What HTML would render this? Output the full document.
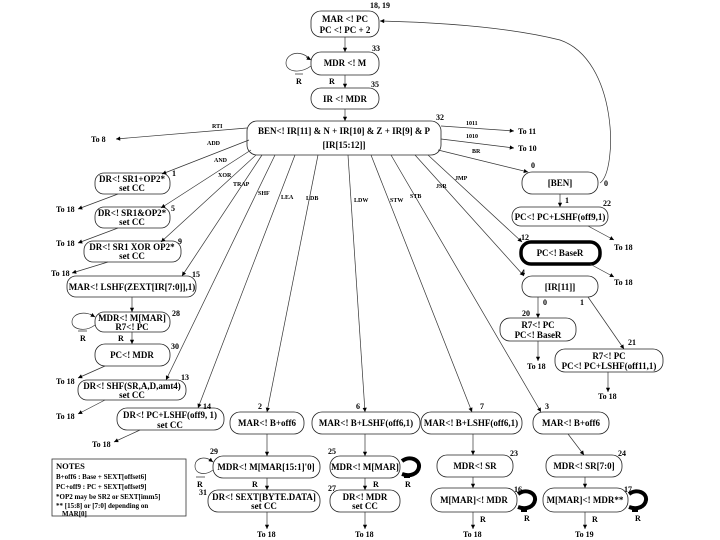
<!DOCTYPE html>
<html><head><meta charset="utf-8"><style>
html,body{margin:0;padding:0;background:#fff;width:720px;height:540px;overflow:hidden}
svg{display:block}
text{font-family:"Liberation Serif",serif;font-weight:bold;fill:#000}
.n{font-size:9px;text-anchor:middle}
.s{font-size:6px}
.l{font-size:8px}
.b{fill:#fff;stroke:#222;stroke-width:0.8}
.e{stroke:#333;stroke-width:0.7;fill:none}
</style></head><body>
<svg width="720" height="540" viewBox="0 0 720 540" xmlns="http://www.w3.org/2000/svg">
<defs><marker id="a" viewBox="0 0 10 10" refX="10" refY="5" markerWidth="7" markerHeight="6" orient="auto"><path d="M0,0L10,5L0,10z" fill="#000"/></marker></defs>

<rect class="b" x="311" y="11" width="68" height="26" rx="10"/>
<text class="n" x="345" y="22">MAR &lt;!  PC</text><text class="n" x="345" y="33">PC &lt;!  PC + 2</text>
<text class="l" x="370" y="8">18, 19</text>

<rect class="b" x="311" y="52" width="68" height="23" rx="10"/>
<text class="n" x="345" y="66">MDR &lt;!  M</text><text class="l" x="372" y="51">33</text>
<rect class="b" x="311" y="88" width="68" height="21" rx="10"/>
<text class="n" x="345" y="102">IR &lt;!  MDR</text><text class="l" x="371" y="87">35</text>

<rect class="b" x="247" y="121" width="194" height="34" rx="10"/>
<text class="n" x="344" y="134">BEN&lt;! IR[11] &amp; N + IR[10] &amp; Z + IR[9] &amp; P</text>
<text class="n" x="344" y="148">[IR[15:12]]</text><text class="l" x="436" y="120">32</text>

<rect class="b" x="522" y="172" width="76" height="22" rx="10"/>
<text class="n" x="560" y="186">[BEN]</text>
<text class="l" x="531" y="168">0</text><text class="l" x="604" y="186">0</text>

<rect class="b" x="512" y="207" width="96" height="19" rx="9"/>
<text class="n" x="560" y="220">PC&lt;! PC+LSHF(off9,1)</text>
<text class="l" x="603" y="206">22</text><text class="l" x="565" y="203">1</text>

<rect x="521" y="242" width="79" height="22" rx="10" fill="#fff" stroke="#000" stroke-width="3.5"/>
<text class="n" x="560" y="256">PC&lt;! BaseR</text><text class="l" x="521" y="240">12</text>

<rect class="b" x="522" y="276" width="76" height="21" rx="10"/>
<text class="n" x="560" y="290">[IR[11]]</text><text class="l" x="521" y="275">4</text>
<text class="l" x="543" y="305">0</text><text class="l" x="580" y="305">1</text>

<rect class="b" x="500" y="318" width="76" height="23" rx="10"/>
<text class="n" x="538" y="328">R7&lt;! PC</text><text class="n" x="538" y="338">PC&lt;! BaseR</text>
<text class="l" x="522" y="316">20</text>

<rect class="b" x="555" y="349" width="108" height="23" rx="10"/>
<text class="n" x="609" y="359">R7&lt;! PC</text><text class="n" x="609" y="369">PC&lt;! PC+LSHF(off11,1)</text>
<text class="l" x="628" y="345">21</text>

<rect class="b" x="95" y="173" width="75" height="21" rx="9"/>
<text class="n" x="132" y="182">DR&lt;! SR1+OP2*</text><text class="n" x="132" y="191">set CC</text><text class="l" x="172" y="176">1</text>
<rect class="b" x="95" y="207" width="75" height="21" rx="9"/>
<text class="n" x="132" y="216">DR&lt;! SR1&amp;OP2*</text><text class="n" x="132" y="225">set CC</text><text class="l" x="171" y="211">5</text>
<rect class="b" x="84" y="241" width="97" height="21" rx="9"/>
<text class="n" x="132" y="250">DR&lt;! SR1 XOR OP2*</text><text class="n" x="132" y="259">set CC</text><text class="l" x="178" y="244">9</text>
<rect class="b" x="67" y="276" width="129" height="21" rx="9"/>
<text class="n" x="132" y="290">MAR&lt;! LSHF(ZEXT[IR[7:0]],1)</text><text class="l" x="192" y="277">15</text>
<rect class="b" x="95" y="312" width="75" height="20" rx="9"/>
<text class="n" x="132" y="321">MDR&lt;! M[MAR]</text><text class="n" x="132" y="330">R7&lt;! PC</text><text class="l" x="172" y="316">28</text>
<rect class="b" x="95" y="344" width="75" height="22" rx="10"/>
<text class="n" x="132" y="358">PC&lt;! MDR</text><text class="l" x="171" y="349">30</text>
<rect class="b" x="78" y="380" width="108" height="20" rx="9"/>
<text class="n" x="132" y="389">DR&lt;! SHF(SR,A,D,amt4)</text><text class="n" x="132" y="398">set CC</text><text class="l" x="181" y="380">13</text>
<rect class="b" x="117" y="408" width="107" height="22" rx="10"/>
<text class="n" x="170" y="418">DR&lt;! PC+LSHF(off9, 1)</text><text class="n" x="170" y="428">set CC</text><text class="l" x="203" y="409">14</text>

<rect class="b" x="230" y="412" width="74" height="22" rx="10"/>
<text class="n" x="267" y="426">MAR&lt;! B+off6</text><text class="l" x="258" y="409">2</text>
<rect class="b" x="213" y="456" width="107" height="22" rx="10"/>
<text class="n" x="266" y="470">MDR&lt;! M[MAR[15:1]'0]</text><text class="l" x="210" y="454">29</text>
<rect class="b" x="208" y="490" width="112" height="22" rx="10"/>
<text class="n" x="264" y="500">DR&lt;! SEXT[BYTE.DATA]</text><text class="n" x="264" y="509">set CC</text><text class="l" x="199" y="495">31</text>

<rect class="b" x="312" y="412" width="108" height="22" rx="10"/>
<text class="n" x="366" y="426">MAR&lt;! B+LSHF(off6,1)</text><text class="l" x="356" y="409">6</text>
<rect class="b" x="330" y="456" width="70" height="22" rx="10"/>
<text class="n" x="365" y="470">MDR&lt;! M[MAR]</text><text class="l" x="328" y="454">25</text>
<rect class="b" x="330" y="490" width="70" height="22" rx="10"/>
<text class="n" x="365" y="500">DR&lt;! MDR</text><text class="n" x="365" y="509">set CC</text><text class="l" x="328" y="491">27</text>

<rect class="b" x="421" y="412" width="101" height="22" rx="10"/>
<text class="n" x="471" y="426">MAR&lt;! B+LSHF(off6,1)</text><text class="l" x="480" y="409">7</text>
<rect class="b" x="437" y="455" width="76" height="22" rx="10"/>
<text class="n" x="475" y="469">MDR&lt;! SR</text><text class="l" x="510" y="456">23</text>
<rect class="b" x="431" y="488" width="86" height="24" rx="11"/>
<text class="n" x="474" y="503">M[MAR]&lt;! MDR</text><text class="l" x="514" y="492">16</text>

<rect class="b" x="533" y="412" width="76" height="22" rx="10"/>
<text class="n" x="571" y="426">MAR&lt;! B+off6</text><text class="l" x="545" y="409">3</text>
<rect class="b" x="546" y="455" width="76" height="22" rx="10"/>
<text class="n" x="584" y="469">MDR&lt;! SR[7:0]</text><text class="l" x="618" y="456">24</text>
<rect class="b" x="543" y="488" width="85" height="24" rx="11"/>
<text class="n" x="585" y="503">M[MAR]&lt;! MDR**</text><text class="l" x="624" y="492">17</text>

<rect x="52" y="459" width="134" height="57" fill="#fff" stroke="#333" stroke-width="0.8"/>
<text x="56" y="469" style="font-size:8.5px">NOTES</text>
<text x="56" y="479" style="font-size:7px">B+off6 : Base + SEXT[offset6]</text>
<text x="56" y="489" style="font-size:7px">PC+off9 : PC + SEXT[offset9]</text>
<text x="56" y="499" style="font-size:7px">*OP2 may be SR2 or SEXT[imm5]</text>
<text x="56" y="508" style="font-size:7px">** [15:8] or [7:0] depending on</text>
<text x="62" y="516" style="font-size:7px">MAR[0]</text>

<path class="e" d="M345,37V52" marker-end="url(#a)"/>
<path class="e" d="M345,75V88" marker-end="url(#a)"/>
<path class="e" d="M345,109V121" marker-end="url(#a)"/>
<path class="e" d="M311,60C300,48 286,54 286,63C286,72 300,74 311,66" />
<path class="e" d="M306,57L311,60" marker-end="url(#a)"/>
<text class="l" x="296" y="84">R</text><line x1="295" y1="74" x2="303" y2="74" stroke="#000" stroke-width="0.6"/>
<text class="l" x="329" y="84">R</text>
<path class="e" d="M600,183C618,170 618,60 560,40C500,25 420,22 380,21" marker-end="url(#a)"/>

<path class="e" d="M441,126L514,131" marker-end="url(#a)"/><text class="s" x="466" y="125">1011</text><text class="l" x="518" y="134">To 11</text>
<path class="e" d="M441,139L514,148" marker-end="url(#a)"/><text class="s" x="466" y="138">1010</text><text class="l" x="518" y="151">To 10</text>
<path class="e" d="M438,150L528,172" marker-end="url(#a)"/><text class="s" x="472" y="153">BR</text>
<path class="e" d="M247,128L116,139" marker-end="url(#a)"/><text class="s" x="212" y="128">RTI</text><text class="l" x="91" y="142">To 8</text>
<path class="e" d="M249,140L162,174" marker-end="url(#a)"/><text class="s" x="207" y="145">ADD</text>
<path class="e" d="M251,150L161,208" marker-end="url(#a)"/><text class="s" x="214" y="162">AND</text>
<path class="e" d="M256,155L161,242" marker-end="url(#a)"/><text class="s" x="218" y="177">XOR</text>
<path class="e" d="M262,155L182,276" marker-end="url(#a)"/><text class="s" x="233" y="186">TRAP</text>
<path class="e" d="M275,155L166,380" marker-end="url(#a)"/><text class="s" x="258" y="195">SHF</text>
<path class="e" d="M295,155L198,408" marker-end="url(#a)"/><text class="s" x="281" y="199">LEA</text>
<path class="e" d="M318,155L267,412" marker-end="url(#a)"/><text class="s" x="306" y="200">LDB</text>
<path class="e" d="M348,155L365,412" marker-end="url(#a)"/><text class="s" x="354" y="202">LDW</text>
<path class="e" d="M371,155L472,412" marker-end="url(#a)"/><text class="s" x="390" y="202">STW</text>
<path class="e" d="M391,155L541,412" marker-end="url(#a)"/><text class="s" x="410" y="198">STB</text>
<path class="e" d="M415,155L524,276" marker-end="url(#a)"/><text class="s" x="436" y="188">JSR</text>
<path class="e" d="M428,155L522,242" marker-end="url(#a)"/><text class="s" x="455" y="180">JMP</text>

<path class="e" d="M560,194V207" marker-end="url(#a)"/>
<path class="e" d="M588,226L614,240" marker-end="url(#a)"/><text class="l" x="614" y="250">To 18</text>
<path class="e" d="M590,264L614,277" marker-end="url(#a)"/><text class="l" x="614" y="285">To 18</text>
<path class="e" d="M538,297V318" marker-end="url(#a)"/>
<path class="e" d="M588,297L624,349" marker-end="url(#a)"/>
<path class="e" d="M538,341V361" marker-end="url(#a)"/><text class="l" x="527" y="369">To 18</text>
<path class="e" d="M608,372V392" marker-end="url(#a)"/><text class="l" x="598" y="399">To 18</text>

<path class="e" d="M118,194L78,209" marker-end="url(#a)"/><text class="l" x="56" y="212">To 18</text>
<path class="e" d="M118,228L78,243" marker-end="url(#a)"/><text class="l" x="56" y="246">To 18</text>
<path class="e" d="M108,262L72,273" marker-end="url(#a)"/><text class="l" x="51" y="276">To 18</text>
<path class="e" d="M132,297V312" marker-end="url(#a)"/>
<path class="e" d="M132,332V344" marker-end="url(#a)"/><text class="l" x="118" y="341">R</text>
<path class="e" d="M95,317C86,310 72,313 72,322C72,330 86,332 95,325"/><path class="e" d="M90,314L95,317" marker-end="url(#a)"/>
<text class="l" x="80" y="341">R</text><line x1="78" y1="331" x2="87" y2="331" stroke="#000" stroke-width="0.6"/>
<path class="e" d="M105,366L78,378" marker-end="url(#a)"/><text class="l" x="56" y="384">To 18</text>
<path class="e" d="M105,400L78,414" marker-end="url(#a)"/><text class="l" x="56" y="419">To 18</text>
<path class="e" d="M140,430L114,442" marker-end="url(#a)"/><text class="l" x="92" y="447">To 18</text>

<path class="e" d="M267,434V456" marker-end="url(#a)"/>
<path class="e" d="M267,478V490" marker-end="url(#a)"/><text class="l" x="252" y="487">R</text>
<path class="e" d="M213,462C205,455 195,458 195,466C195,474 205,476 213,470"/><path class="e" d="M209,459L213,462" marker-end="url(#a)"/>
<text class="l" x="197" y="487">R</text><line x1="196" y1="477" x2="205" y2="477" stroke="#000" stroke-width="0.6"/>
<path class="e" d="M267,512V529" marker-end="url(#a)"/><text class="l" x="257" y="537">To 18</text>

<path class="e" d="M365,434V456" marker-end="url(#a)"/>
<path class="e" d="M365,478V490" marker-end="url(#a)"/><text class="l" x="373" y="487">R</text>
<path d="M402,461C410,455 420,460 419,467C418,474 410,477 402,474" fill="none" stroke="#000" stroke-width="4"/>
<rect x="404" y="474" width="6" height="4" fill="#000"/><text class="l" x="405" y="487">R</text>
<path class="e" d="M365,512V529" marker-end="url(#a)"/><text class="l" x="355" y="537">To 18</text>

<path class="e" d="M473,434V455" marker-end="url(#a)"/>
<path class="e" d="M473,477V488" marker-end="url(#a)"/>
<path d="M518,494C526,488 536,493 535,500C534,507 526,510 518,507" fill="none" stroke="#000" stroke-width="4"/>
<rect x="521" y="508" width="6" height="4" fill="#000"/><text class="l" x="524" y="521">R</text>
<path class="e" d="M473,512V529" marker-end="url(#a)"/><text class="l" x="480" y="522">R</text><text class="l" x="463" y="537">To 18</text>

<path class="e" d="M568,434L584,455" marker-end="url(#a)"/>
<path class="e" d="M585,477V488" marker-end="url(#a)"/>
<path d="M629,494C637,488 647,493 646,500C645,507 637,510 629,507" fill="none" stroke="#000" stroke-width="4"/>
<rect x="632" y="508" width="6" height="4" fill="#000"/><text class="l" x="635" y="521">R</text>
<path class="e" d="M585,512V529" marker-end="url(#a)"/><text class="l" x="592" y="522">R</text><text class="l" x="575" y="537">To 19</text>
</svg>
</body></html>
